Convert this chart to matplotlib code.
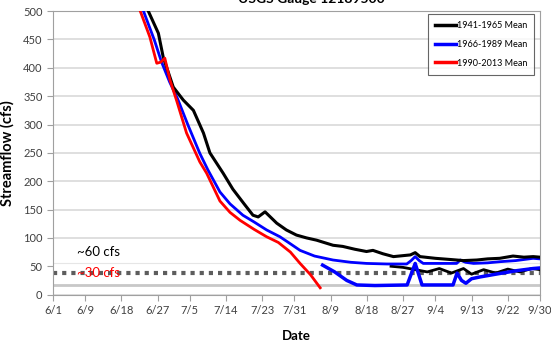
import numpy as np
import matplotlib.pyplot as plt
from matplotlib.lines import Line2D

# tick positions (days after 6/1) and labels
tick_days = [0, 8, 17, 26, 34, 43, 52, 60, 69, 78, 87, 95, 104, 113, 121]
tick_labels = ['6/1', '6/9', '6/18', '6/27', '7/5', '7/14', '7/23', '7/31',
               '8/9', '8/18', '8/27', '9/4', '9/13', '9/22', '9/30']

# 1941-1965 mean
black_days = [22, 23.7, 26.2, 27.4, 29.9, 32.4, 34.9, 37.4, 39, 42.3, 44.7, 47.5, 49.7, 51,
              52.7, 55.6, 58, 60.5, 63, 65.5, 69.6, 72, 75, 77.9, 79.5, 82, 84.6, 86, 88.8,
              90, 91.2, 95, 98.6, 102, 105.3, 108, 111, 114.3, 117, 119.3, 121]
black_vals = [540, 500, 461, 419, 366, 343, 325, 285, 250, 214, 186, 160, 140, 137,
              146, 126, 114, 105, 100, 96, 87, 85, 80, 76, 78, 72, 67, 68, 70,
              74, 67, 64, 62, 60, 61, 63, 64, 68, 66, 67, 66]

# 1966-1989 mean
blue_days = [21.5, 22.5, 25.2, 27, 29, 31, 33.5, 36.5, 38.5, 41.5, 44, 47.2, 50, 53.1,
             56.4, 58.5, 61.4, 65, 69.6, 74, 77.9, 83, 87.9, 89, 90, 91, 92, 96, 100.3,
             101.2, 102.5, 104.5, 108, 111, 115, 119.3, 121]
blue_vals = [540, 500, 449, 410, 375, 345, 300, 249, 220, 181, 160, 140, 128, 114,
             102, 92, 78, 68, 61, 57, 55, 54, 54, 60, 67, 60, 55, 55, 55,
             61, 57, 55, 56, 58, 60, 64, 63]

# 1990-2013 mean
red_days = [21, 21.6, 24.1, 25.8, 26.8, 27.8, 29.1, 30.7, 33.2, 36.5, 38.2, 41.5, 44,
            46.5, 50, 53.1, 56, 59, 61.4, 64, 66.4]
red_vals = [540, 502, 454, 408, 410, 417, 378, 343, 285, 234, 214, 165, 145,
            131, 115, 102, 92, 75, 55, 35, 12]

# pasted low-flow inset (lower copy of the traces)
blue_low_days = [67, 70, 73, 75.5, 80, 88, 90, 91.7, 99.4, 100.4, 101.5, 102.6, 104,
                 106, 110, 115, 119.3, 121]
blue_low_vals = [52, 40, 25, 17, 16, 17, 55, 17, 17, 38, 25, 20, 28,
                 31, 36, 42, 46, 47]
black_low_days = [84, 87, 90, 93, 96, 99, 102, 104, 107, 110, 113, 116, 119, 121]
black_low_vals = [50, 48, 44, 40, 46, 38, 46, 36, 44, 38, 45, 40, 46, 44]
threshold = 38

plt.rcParams['font.family'] = ['Lato', 'DejaVu Sans']

fig = plt.figure(figsize=(5.51, 3.47), dpi=100)
ax = fig.add_axes([0.096, 0.151, 0.884, 0.817])

ax.set_xlim(0, 121)
ax.set_ylim(0, 500)
ax.set_yticks(range(0, 501, 50))
ax.set_xticks(tick_days)
ax.set_xticklabels(tick_labels)
ax.tick_params(labelsize=8, colors='#404040', length=4, color='#a0a0a0')
ax.grid(axis='y', color='#d9d9d9', lw=1.2)
ax.set_axisbelow(True)
for s in ax.spines.values():
    s.set_color('#a0a0a0')

# main traces
ax.plot(black_days, black_vals, color='black', lw=2.2, zorder=4)
ax.plot(blue_days, blue_vals, color='#0000ff', lw=2, zorder=3)
ax.plot(red_days, red_vals, color='#ff0000', lw=2, zorder=5)

# low-flow band
ax.fill_between([0, 121], 17, 55, color='white', zorder=2)
ax.plot([0, 121], [55, 55], color='#e6e6e6', lw=0.8, zorder=2)
ax.plot([0, 121], [17, 17], color='#c8c8c8', lw=2, zorder=2)
ax.plot([0, 121], [threshold, threshold], color='#404040', lw=3,
        ls=(0, (1.0, 1.2)), zorder=2.5, alpha=0.85)
ax.plot(blue_low_days, blue_low_vals, color='#0000ff', lw=2.5, zorder=3)
ax.plot(black_low_days, black_low_vals, color='black', lw=2, zorder=2.8)

ax.text(6, 75, '~60 cfs', fontsize=9.5, color='black', va='center')
ax.text(6, 38, '~30 cfs', fontsize=9.5, color='#ff0000', va='center', zorder=6)

ax.set_ylabel('Streamflow (cfs)', fontsize=10.5, fontweight='bold', labelpad=6)
ax.set_xlabel('Date', fontsize=9.5, fontweight='bold', labelpad=10)

# title sits mostly above the top edge, as in the source image
fig.text(0.565, 1 - 3 / 347, 'USGS Gauge 12189500', fontsize=10, fontweight='bold',
         ha='center', va='baseline')

handles = [Line2D([], [], color='black', lw=2.5),
           Line2D([], [], color='#0000ff', lw=2.5),
           Line2D([], [], color='#ff0000', lw=2.5)]
leg = fig.legend(handles, ['1941-1965 Mean', '1966-1989 Mean', '1990-2013 Mean'],
                 loc='upper right', bbox_to_anchor=(539 / 551, 1 - 9 / 347),
                 fontsize=6.5, frameon=True, fancybox=False, handlelength=2.3,
                 handletextpad=0.1, labelspacing=1.1, borderpad=0.8)
leg.get_frame().set_edgecolor('#404040')
leg.get_frame().set_linewidth(0.8)

fig.savefig('out.png', dpi=100)
